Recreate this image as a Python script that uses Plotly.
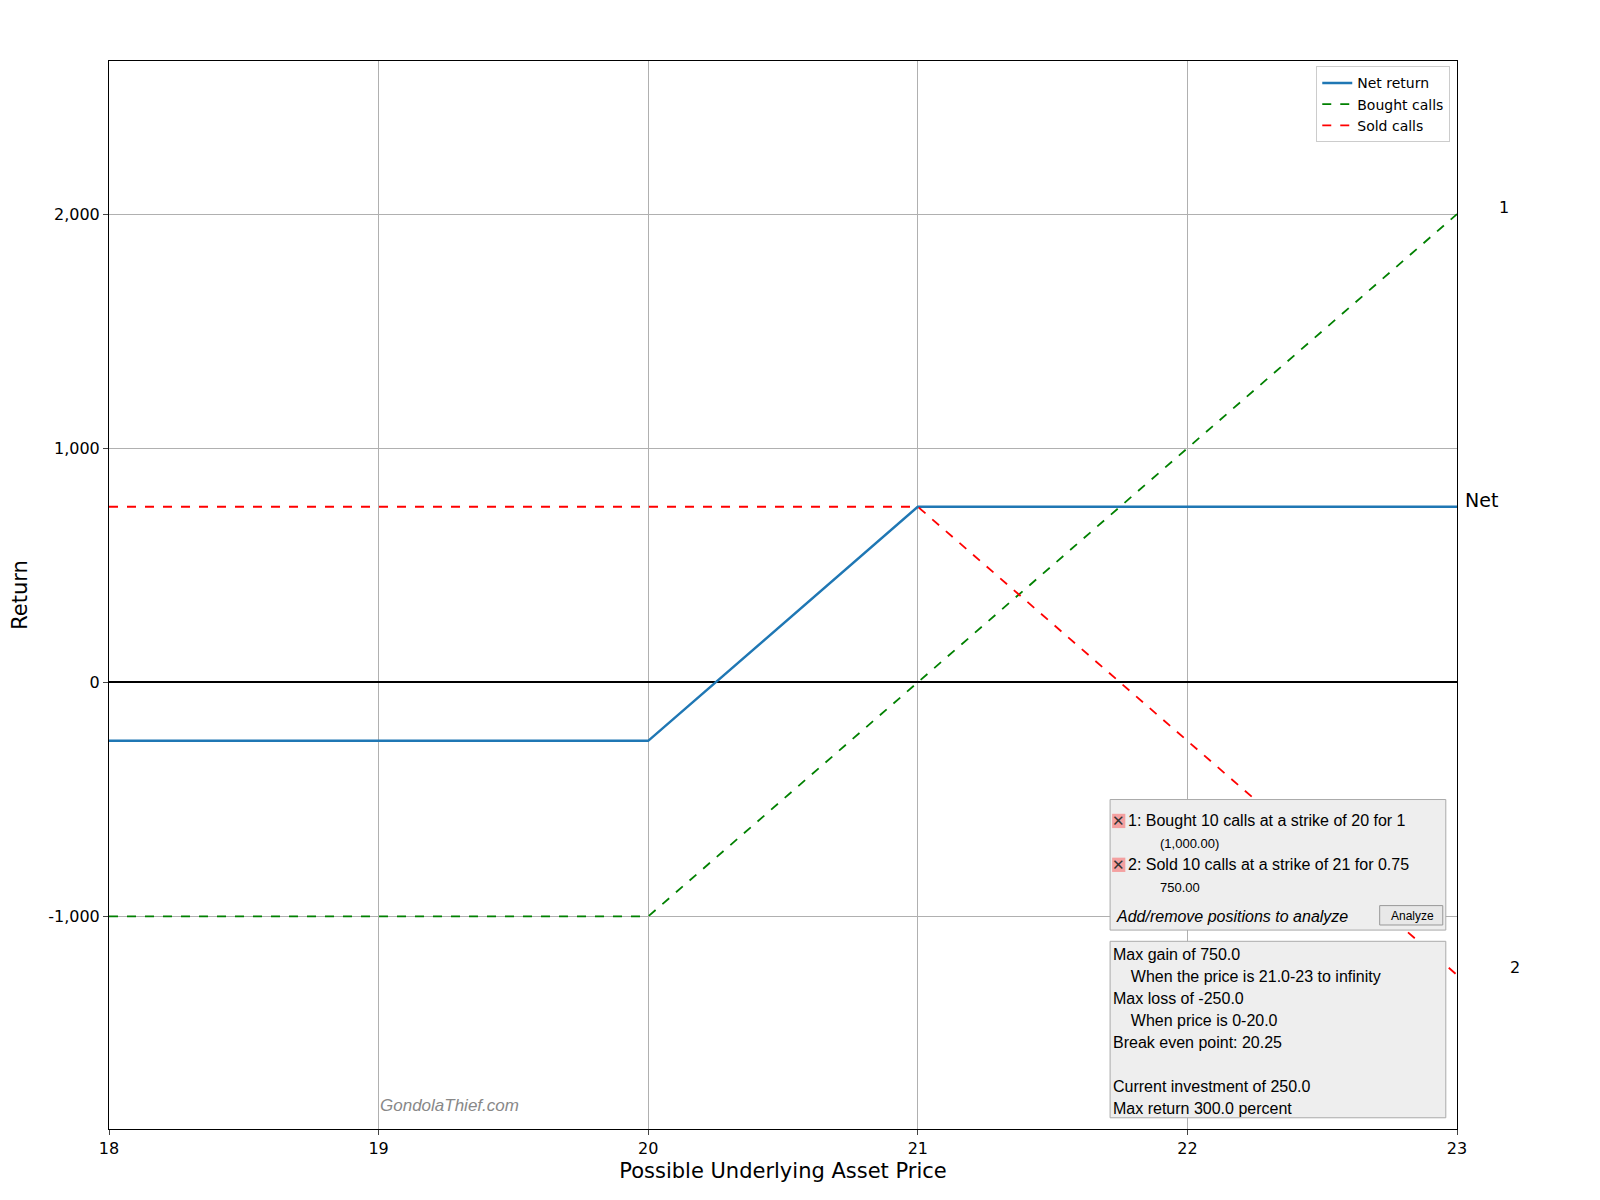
import plotly.graph_objects as go

# --- data ---
prices = [18, 19, 20, 21, 22, 23]
net_return = [-250, -250, -250, 750, 750, 750]
bought_calls = [-1000, -1000, -1000, 0, 1000, 2000]
sold_calls = [750, 750, 750, 750, -250, -1250]

x_ticks = [18, 19, 20, 21, 22, 23]
y_ticks = [-1000, 0, 1000, 2000]
y_labels = ['-1,000', '0', '1,000', '2,000']

W, H = 1600, 1200


def conv(d):
    # reference picture pixels -> page pixels
    return (d - 7) / 0.98


L, T = conv(102), conv(59)
R, B = W - conv(1427), H - conv(1106)
PW, PH = W - L - R, H - T - B


def px(x):
    return (conv(x) - L) / PW


def py(y):
    return (H - B - conv(y)) / PH


fig = go.Figure()
fig.add_trace(go.Scatter(x=prices, y=net_return, mode='lines', name='Net return',
                         line=dict(color='#1f77b4', width=2.5)))
fig.add_trace(go.Scatter(x=prices, y=bought_calls, mode='lines', name='Bought calls',
                         line=dict(color='green', width=1.8, dash='dash')))
fig.add_trace(go.Scatter(x=prices, y=sold_calls, mode='lines', name='Sold calls',
                         line=dict(color='red', width=1.8, dash='dash')))

fig.update_layout(
    width=W, height=H,
    margin=dict(l=L, r=R, t=T, b=B),
    paper_bgcolor='white', plot_bgcolor='white',
    font=dict(family='DejaVu Sans', size=16, color='black'),
    legend=dict(x=0.995, y=0.995, xanchor='right', yanchor='top',
                bgcolor='white', bordercolor='#cccccc', borderwidth=1,
                font=dict(size=14), tracegroupgap=0),
)
fig.update_xaxes(range=[18, 23], tickvals=x_ticks, showgrid=True, gridcolor='#b0b0b0',
                 zeroline=False, showline=True, linecolor='black', mirror=True,
                 ticks='outside', ticklen=5,
                 title=dict(text='Possible Underlying Asset Price', font=dict(size=21), standoff=6))
fig.update_yaxes(range=[-1908, 2654], tickvals=y_ticks, ticktext=y_labels, showgrid=True,
                 gridcolor='#b0b0b0', zeroline=True, zerolinecolor='black', zerolinewidth=2,
                 showline=True, linecolor='black', mirror=True, ticks='outside', ticklen=5,
                 title=dict(text='Return', font=dict(size=21), standoff=14))

# end labels
for lbl, yv, dx in [('1', 2030, 47), ('2', -1220, 58), ('Net', 780, 24)]:
    fig.add_annotation(x=23, y=yv, text=lbl, showarrow=False, xanchor='center',
                       xshift=dx, font=dict(size=19 if lbl == 'Net' else 16))

# info boxes
box = dict(type='rect', xref='paper', yref='paper', fillcolor='#eeeeee',
           line=dict(color='#aaaaaa', width=1))
fig.add_shape(x0=px(1086), x1=px(1416), y0=py(911), y1=py(783), **box)
fig.add_shape(x0=px(1086), x1=px(1416), y0=py(1095), y1=py(922), **box)
fig.add_shape(type='rect', xref='paper', yref='paper', x0=px(1351), x1=px(1413),
              y0=py(906), y1=py(887), fillcolor='#e8e8e8', line=dict(color='#999999', width=1))
for yy in (797, 840):
    fig.add_shape(type='rect', xref='paper', yref='paper', x0=px(1088), x1=px(1101),
                  y0=py(yy + 14), y1=py(yy), fillcolor='#f4a0a0', line=dict(width=0))


def txt(x, y, s, size=16, italic=False, color='black'):
    fig.add_annotation(xref='paper', yref='paper', x=px(x), y=py(y), text=s,
                       showarrow=False, xanchor='left', yanchor='middle',
                       font=dict(family='Liberation Sans', size=size, color=color,
                                 style='italic' if italic else 'normal'))


txt(1086, 804, '✕', 15, color='#333333')
txt(1086, 847, '✕', 15, color='#333333')
txt(1102, 804, '1: Bought 10 calls at a strike of 20 for 1')
txt(1133, 826, '(1,000.00)', 13)
txt(1102, 847, '2: Sold 10 calls at a strike of 21 for 0.75')
txt(1133, 869, '750.00', 13)
txt(1090, 898, 'Add/remove positions to analyze', 16, italic=True)
txt(1360, 897, 'Analyze', 12)
lines = ['Max gain of 750.0', '    When the price is 21.0-23 to infinity', 'Max loss of -250.0',
         '    When price is 0-20.0', 'Break even point: 20.25', '',
         'Current investment of 250.0', 'Max return 300.0 percent']
for i, s in enumerate(lines):
    if s:
        txt(1087, 935 + i * 21.5, s.replace('    ', '&nbsp;&nbsp;&nbsp;&nbsp;'))

txt(366, 1083, 'GondolaThief.com', 17, italic=True, color='#888888')

fig.write_html('out.html')
